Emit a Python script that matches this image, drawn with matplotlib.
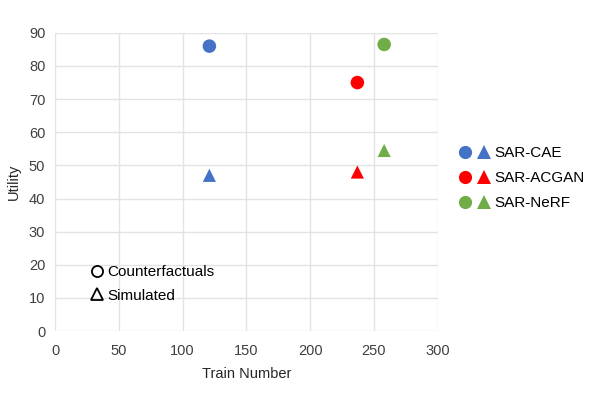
import matplotlib
matplotlib.use("Agg")
import matplotlib.pyplot as plt
from matplotlib.lines import Line2D
from matplotlib.legend_handler import HandlerTuple

plt.rcParams['font.family'] = ['Liberation Sans', 'DejaVu Sans']

models = ["SAR-CAE", "SAR-ACGAN", "SAR-NeRF"]
colors = ["#4472C4", "#FF0000", "#70AD47"]
train_number = [121, 237, 258]
utility_counterfactual = [86.0, 75.0, 86.5]
utility_simulated = [47.0, 48.0, 54.5]

fig = plt.figure(figsize=(5.98, 3.96), dpi=100)
ax = fig.add_axes([0.092, 0.164, 0.640, 0.753])

for x, yc, ys, c in zip(train_number, utility_counterfactual, utility_simulated, colors):
    ax.scatter([x], [yc], marker='o', s=95, color=c, edgecolors='none', zorder=3)
    ax.scatter([x], [ys], marker='^', s=90, color=c, edgecolors='none', zorder=3)

ax.set_xlim(0, 300)
ax.set_ylim(0, 90)
ax.set_xticks(range(0, 301, 50))
ax.set_yticks(range(0, 91, 10))
ax.grid(True, color='#e3e3e3', linewidth=1)
ax.set_axisbelow(True)
for s in ax.spines.values():
    s.set_visible(False)
ax.tick_params(length=0, labelsize=10.5, colors='#404040')
ax.tick_params(axis='x', pad=9)
ax.tick_params(axis='y', pad=7)
ax.set_xlabel("Train Number", fontsize=10.5, color='#262626', labelpad=7)
ax.set_ylabel("Utility", fontsize=10.5, color='#262626', labelpad=6)

handles = []
for c in colors:
    h1 = Line2D([], [], marker='o', linestyle='none', color=c, markersize=9.5, markeredgewidth=0)
    h2 = Line2D([], [], marker='^', linestyle='none', color=c, markersize=9.5, markeredgewidth=0)
    handles.append((h1, h2))
fig.legend(handles, models, handler_map={tuple: HandlerTuple(ndivide=None, pad=0.4)},
           loc='center left', bbox_to_anchor=(0.745, 0.55), frameon=False,
           fontsize=11, handlelength=2.0, handletextpad=0.3, labelspacing=0.72)

kh = [Line2D([], [], marker='o', linestyle='none', markerfacecolor='none', markeredgecolor='black', markersize=8, markeredgewidth=1.3),
      Line2D([], [], marker='^', linestyle='none', markerfacecolor='none', markeredgecolor='black', markersize=8, markeredgewidth=1.3)]
ax.legend(kh, ["Counterfactuals", "Simulated"], loc='lower left', bbox_to_anchor=(0.075, 0.07),
          frameon=False, fontsize=11, handlelength=0.8, handletextpad=0.25, labelspacing=0.6,
          borderpad=0)

fig.savefig("out.png", dpi=100, facecolor='white')
